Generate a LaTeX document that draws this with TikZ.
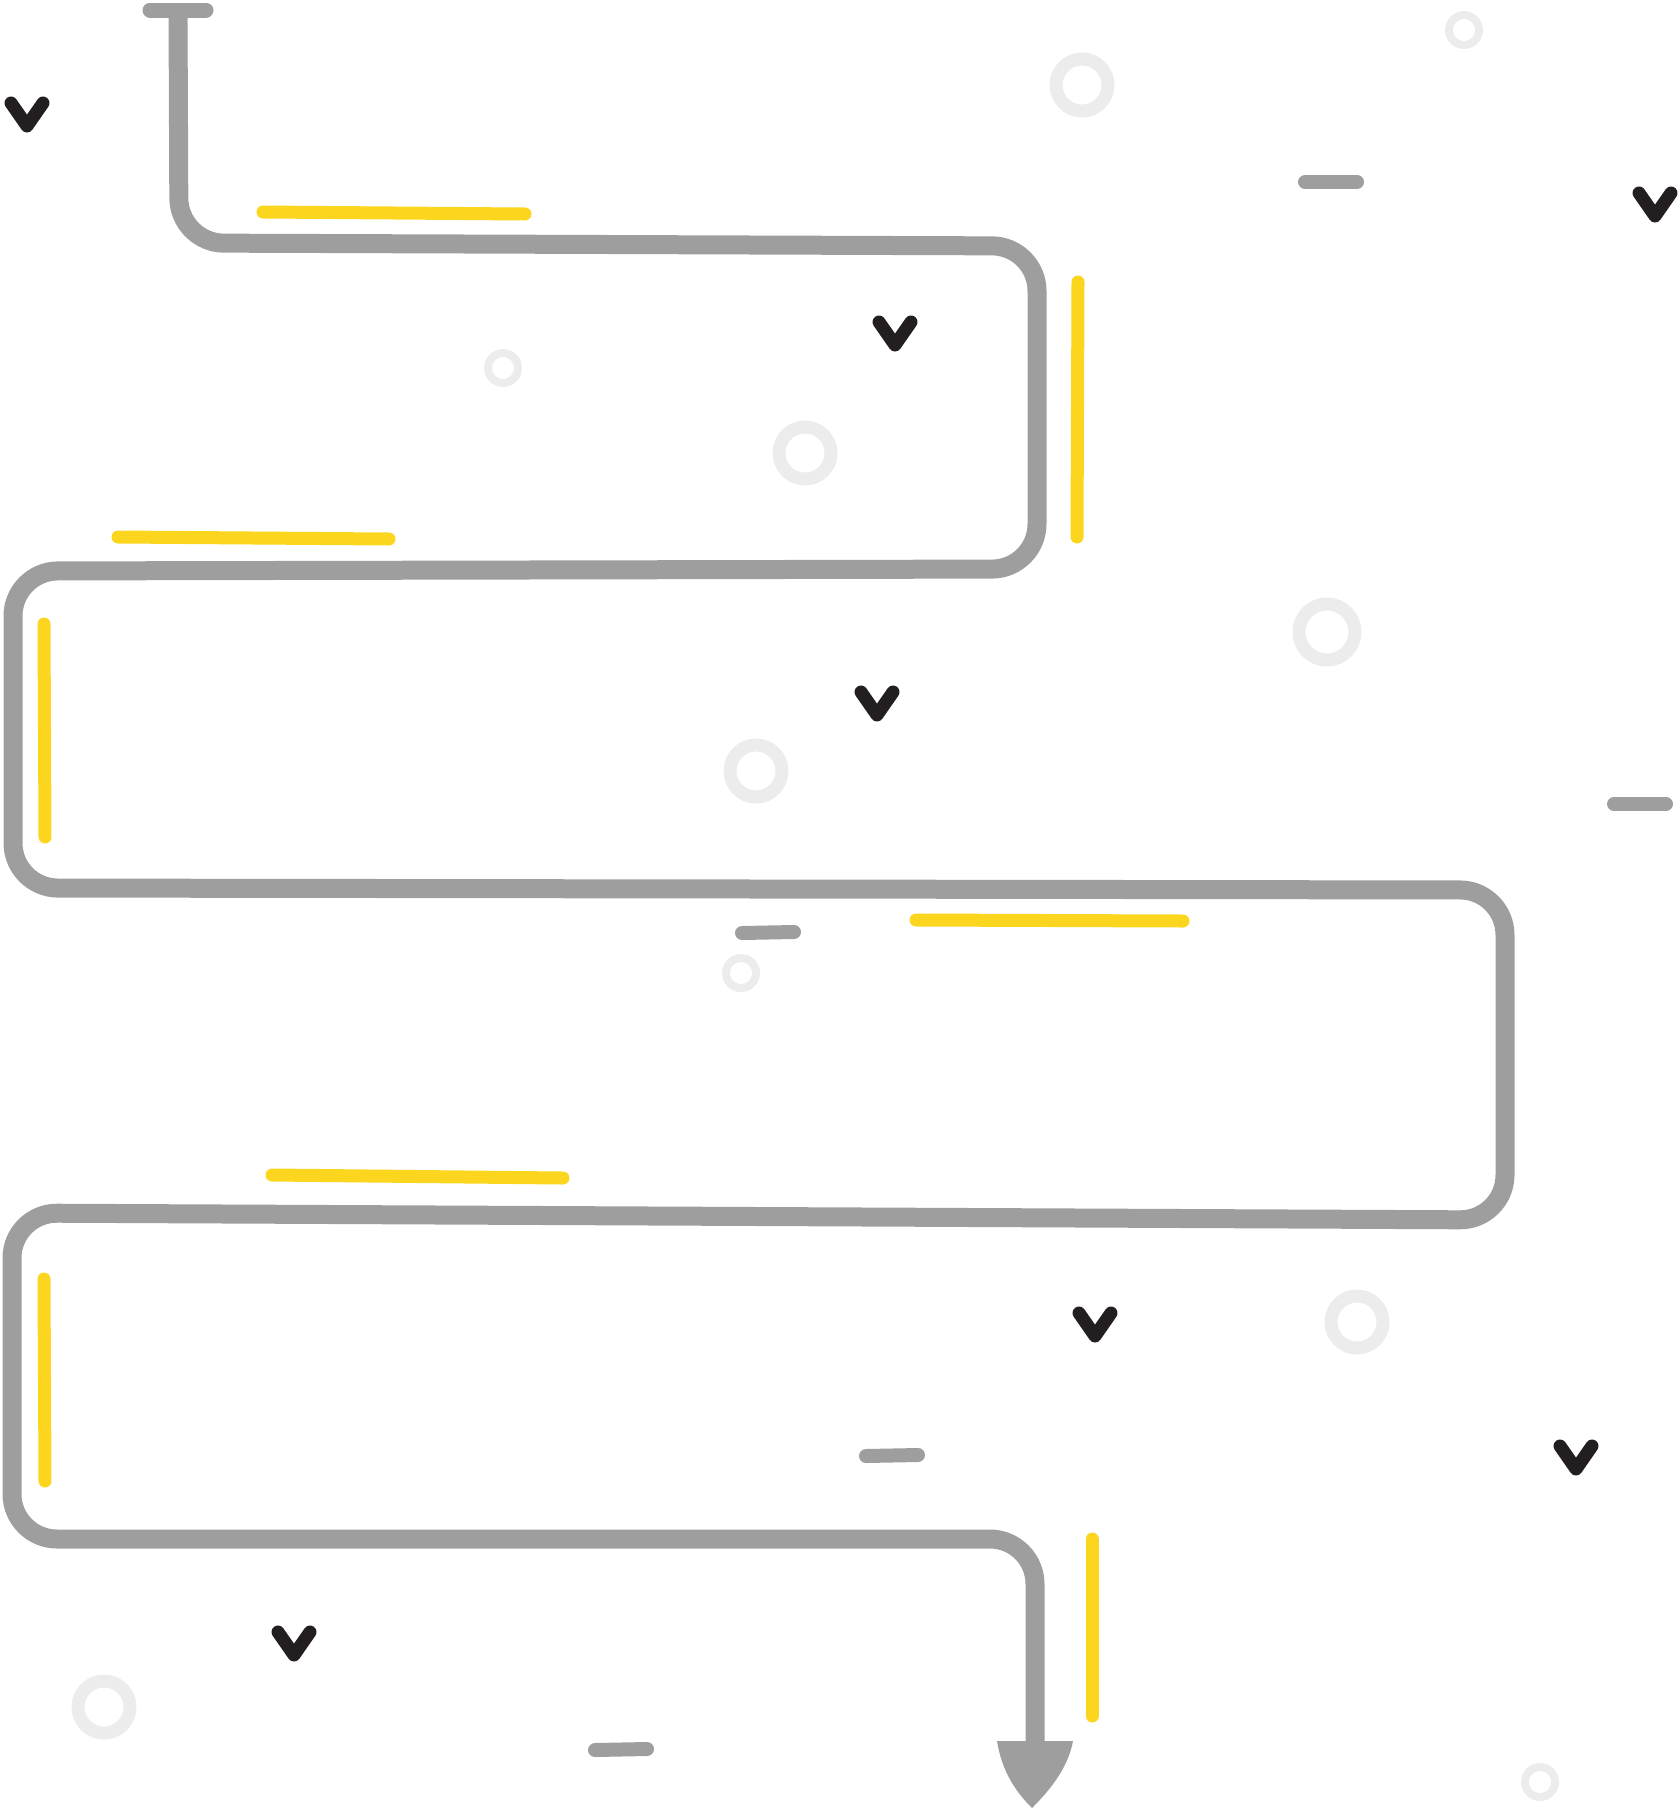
\documentclass[tikz,border=0pt]{standalone}
\usepackage{xcolor}
\usepackage{tikz}
\definecolor{pathgray}{RGB}{157,158,157}
\definecolor{markyellow}{RGB}{252,213,31}
\definecolor{ringgray}{RGB}{236,236,236}
\definecolor{tickdark}{RGB}{35,31,32}
\tikzset{every picture/.style={line width=0.75pt},
  route/.style={draw=pathgray,line width=19pt,rounded corners=45pt,line join=round},
  hilite/.style={draw=markyellow,line width=13pt,line cap=round},
  dashmark/.style={draw=pathgray,line width=14pt,line cap=round},
  bigring/.style={draw=ringgray,line width=13pt},
  smallring/.style={draw=ringgray,line width=8pt},
  tickmark/.style={draw=tickdark,line width=13pt,line cap=round,line join=round}}

\begin{document}
\begin{tikzpicture}[x=1pt,y=1pt,yscale=-1,xscale=1]
    \useasboundingbox (0,0) rectangle (1680,1810);
    % background sprinkles
    \draw [bigring]   (1082,85) circle (26) ;
    \draw [bigring]   (805,453) circle (26) ;
    \draw [bigring]   (1327,632) circle (28) ;
    \draw [bigring]   (756,771) circle (26) ;
    \draw [bigring]   (1357,1322) circle (26) ;
    \draw [bigring]   (104,1707) circle (26) ;
    \draw [smallring] (1464,30) circle (15) ;
    \draw [smallring] (503,368) circle (15) ;
    \draw [smallring] (741,973) circle (15) ;
    \draw [smallring] (1540,1782) circle (15) ;
    \draw [dashmark]  (1305,182) -- (1357,182) ;
    \draw [dashmark]  (1614,804) -- (1666,804) ;
    \draw [dashmark]  (742,933) -- (794,932) ;
    \draw [dashmark]  (866,1456) -- (918,1455) ;
    \draw [dashmark]  (595,1750) -- (647,1749) ;
    \draw [tickmark]  (11,103) -- (27,126) -- (43,103) ;
    \draw [tickmark]  (1639,193) -- (1655,216) -- (1671,193) ;
    \draw [tickmark]  (879,322) -- (895,345) -- (911,322) ;
    \draw [tickmark]  (861,692) -- (877,715) -- (893,692) ;
    \draw [tickmark]  (1079,1313) -- (1095,1336) -- (1111,1313) ;
    \draw [tickmark]  (1560,1446) -- (1576,1469) -- (1592,1446) ;
    \draw [tickmark]  (278,1632) -- (294,1655) -- (310,1632) ;
    % yellow strokes along the route
    \draw [hilite]    (263,212) -- (525,214) ;
    \draw [hilite]    (1078,282) -- (1077,537) ;
    \draw [hilite]    (118,537) -- (389,539) ;
    \draw [hilite]    (44,624) -- (45,837) ;
    \draw [hilite]    (916,920) -- (1183,921) ;
    \draw [hilite]    (272,1175) -- (563,1178) ;
    \draw [hilite]    (44,1279) -- (45,1481) ;
    \draw [hilite]    (1092,1539) -- (1092,1716) ;
    % the winding route
    \draw [dashmark,line width=15pt]  (150,10) -- (206,10) ;
    \draw [route]  (178,10) -- (179,243) -- (1037,246) -- (1037,569) -- (13,571) -- (13,888) -- (1505,890) -- (1505,1220) -- (12,1213) -- (12,1539) -- (1035,1539) -- (1035,1748) ;
    \fill [pathgray]  (997,1741) -- (1073,1741) .. controls (1068,1768) and (1050,1790) .. (1032,1808) .. controls (1016,1792) and (1002,1772) .. cycle ;
\end{tikzpicture}
\end{document}
